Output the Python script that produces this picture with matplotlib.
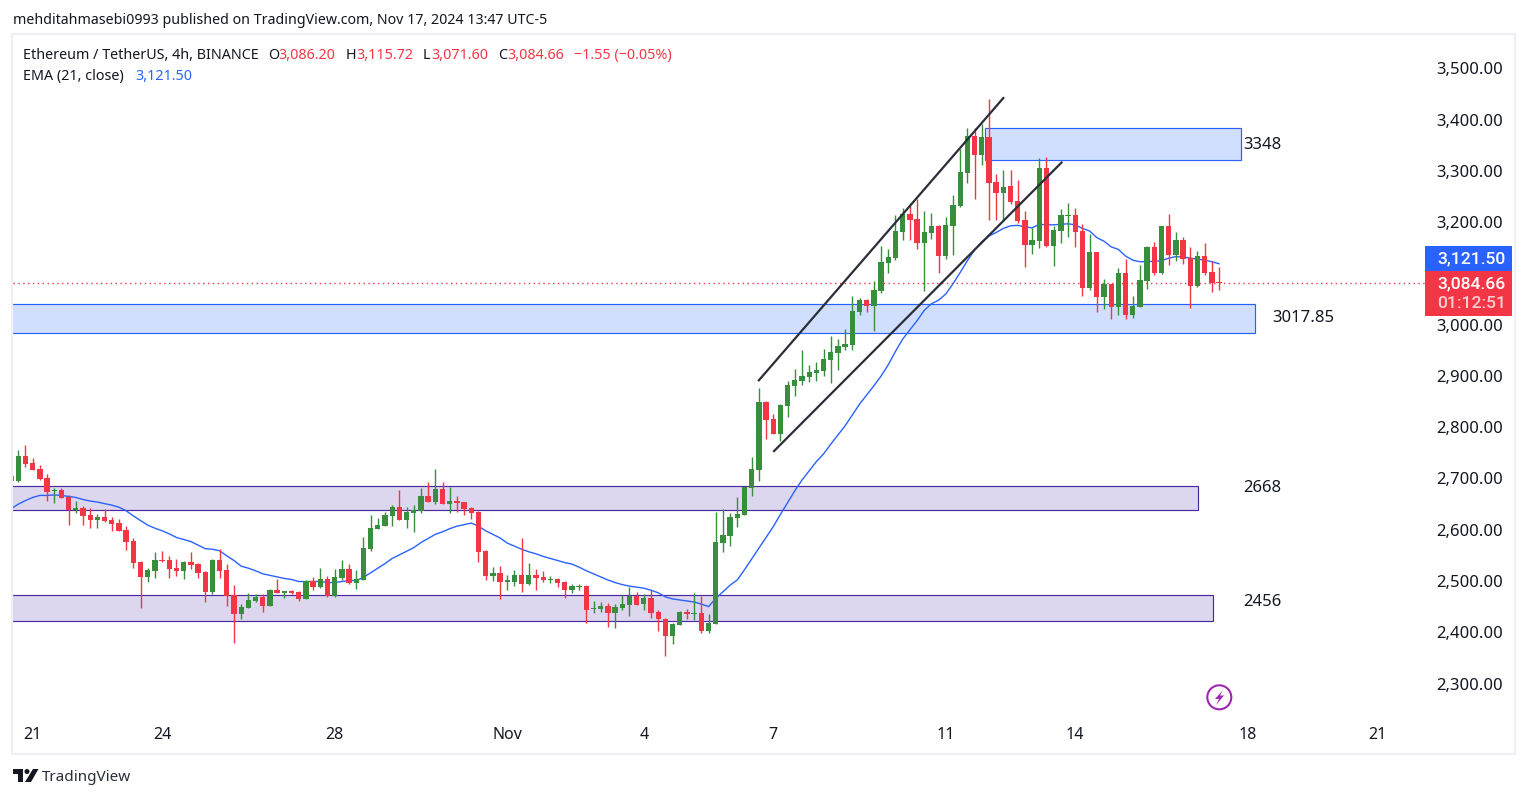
import numpy as np
import matplotlib
matplotlib.use("Agg")
import matplotlib.pyplot as plt
from matplotlib.patches import Rectangle, Polygon, Circle

W, H = 1529, 798
FONT = "Noto Sans"
INK = "#131722"
UP = "#388e3c"
DOWN = "#f23645"
EMA_BLUE = "#2962ff"

opens = [2704,2695,2744,2730,2719,2701,2676,2678,2664,2639,2642,2629,2619,2625,2619,2613,2600,2578,2537,2508,2520,
         2541,2541,2525,2520,2537,2533,2518,2479,2541,2522,2473,2436,2447,2461,2469,2451,2483,2477,2481,2479,
         2465,2500,2488,2504,2471,2506,2523,2496,2502,2563,2602,2607,2627,2644,2619,2633,2637,2666,2654,2680,
         2650,2656,2654,2643,2635,2559,2510,2516,2499,2498,2512,2494,2512,2508,2502,2504,2498,2482,2488,2490,
         2446,2445,2451,2438,2447,2453,2471,2455,2467,2440,2426,2393,2414,2440,2436,2438,2402,2416,2574,2588,
         2623,2629,2682,2717,2849,2816,2787,2842,2881,2890,2898,2906,2910,2931,2945,2957,2961,3025,3048,3037,
         3066,3121,3130,3181,3216,3206,3160,3179,3193,3134,3193,3232,3296,3368,3331,3366,3279,3257,3271,3242,
         3204,3156,3163,3306,3154,3183,3212,3214,3183,3072,3142,3054,3080,3035,3101,3019,3035,3085,3152,3101,
         3193,3136,3165,3130,3076,3134,3103,3082.5]
highs = [2704,2756,2765,2740,2726,2709,2682,2682,2668,2656,2646,2642,2631,2641,2625,2621,2607,2584,2539,2525,2557,
         2559,2549,2543,2539,2557,2535,2520,2543,2562,2533,2492,2455,2477,2475,2475,2484,2504,2481,2483,2481,
         2502,2508,2525,2510,2523,2541,2533,2522,2586,2629,2623,2635,2648,2678,2644,2648,2682,2693,2719,2693,
         2684,2666,2654,2644,2637,2561,2527,2529,2512,2522,2584,2535,2523,2520,2510,2506,2500,2494,2494,2492,
         2461,2459,2457,2455,2473,2488,2479,2475,2482,2443,2428,2418,2441,2445,2477,2471,2436,2635,2641,2633,
         2664,2684,2742,2877,2851,2826,2845,2890,2914,2951,2922,2927,2953,2978,2972,2992,3056,3052,3050,3085,
         3154,3148,3214,3228,3234,3245,3222,3218,3195,3210,3253,3343,3384,3384,3392,3441,3294,3302,3302,3283,
         3222,3189,3325,3327,3193,3226,3238,3228,3197,3177,3142,3089,3080,3111,3128,3056,3117,3154,3162,3193,
         3216,3181,3171,3152,3144,3160,3124,3112]
lows = [2696,2693,2723,2717,2697,2656,2652,2662,2609,2633,2609,2603,2603,2615,2598,2598,2561,2525,2447,2498,2506,
        2537,2506,2510,2504,2523,2506,2459,2475,2506,2451,2379,2426,2447,2459,2440,2451,2477,2467,2475,2461,
        2465,2483,2486,2469,2469,2502,2494,2484,2502,2559,2602,2607,2607,2619,2604,2596,2633,2654,2650,2650,
        2633,2635,2629,2621,2537,2502,2500,2465,2482,2490,2479,2492,2482,2498,2496,2488,2467,2477,2482,2418,
        2438,2440,2410,2408,2443,2432,2453,2443,2428,2402,2354,2377,2414,2426,2424,2399,2399,2416,2557,2568,
        2606,2629,2666,2695,2777,2787,2773,2820,2861,2883,2888,2890,2900,2886,2912,2951,2951,3019,3025,2988,
        3062,3101,3126,3165,3165,3148,3066,3167,3101,3128,3136,3230,3277,3245,3312,3204,3204,3204,3236,3199,
        3113,3138,3150,3152,3115,3160,3171,3152,3056,3068,3025,3031,3011,3019,3011,3013,3035,3070,3097,3099,
        3117,3124,3119,3033,3074,3097,3064,3068]
closes = [2696,2744,2728,2717,2699,2674,2678,2662,2639,2642,2627,2619,2625,2617,2611,2598,2576,2535,2508,2522,2541,
          2539,2523,2520,2537,2531,2516,2479,2541,2520,2471,2436,2449,2463,2469,2451,2483,2477,2481,2477,2465,
          2500,2488,2504,2471,2508,2523,2496,2504,2564,2604,2609,2629,2644,2619,2635,2639,2666,2654,2680,2650,
          2656,2652,2641,2633,2557,2510,2516,2498,2500,2512,2494,2512,2506,2502,2504,2496,2482,2490,2490,2443,
          2447,2451,2438,2449,2455,2471,2453,2467,2438,2426,2393,2416,2440,2436,2438,2402,2418,2576,2590,2625,
          2631,2684,2719,2849,2814,2787,2844,2883,2892,2900,2908,2912,2933,2947,2959,2962,3027,3048,3037,3068,
          3122,3132,3183,3216,3204,3160,3181,3193,3134,3195,3234,3298,3368,3331,3366,3277,3257,3269,3240,3202,
          3156,3165,3306,3154,3185,3214,3214,3181,3072,3142,3054,3080,3035,3101,3019,3037,3087,3152,3101,3193,
          3136,3165,3128,3076,3134,3101,3081,3081]
ema = [2641,2650,2657,2663,2667,2667,2668,2667,2665,2663,2659,2656,2654,2651,2648,2644,2637,2627,2618,2609,2603,
       2598,2592,2585,2581,2577,2570,2563,2562,2559,2549,2540,2529,2525,2520,2514,2511,2508,2505,2503,2499,
       2499,2499,2499,2497,2497,2499,2501,2501,2507,2516,2525,2534,2544,2551,2558,2565,2575,2583,2591,2596,
       2602,2607,2610,2613,2607,2598,2591,2584,2574,2568,2562,2557,2553,2548,2544,2540,2536,2533,2527,2520,
       2514,2508,2502,2497,2493,2490,2488,2486,2482,2477,2469,2465,2463,2461,2459,2455,2450,2466,2479,2492,
       2502,2522,2543,2564,2585,2606,2630,2653,2676,2697,2715,2733,2748,2767,2785,2803,2824,2845,2863,2881,
       2900,2922,2948,2972,2990,3008,3028,3041,3048,3060,3080,3102,3125,3146,3162,3173,3180,3188,3193,3194,
       3191,3189,3196,3195,3195,3196,3197,3195,3188,3183,3170,3163,3152,3147,3134,3126,3123,3123,3124,3125,
       3130,3133,3132,3130,3128,3126,3123,3119]

price_ticks = [3500, 3400, 3300, 3200, 3000, 2900, 2800, 2700, 2600, 2500, 2400, 2300]
date_labels = ["21", "24", "28", "Nov", "4", "7", "11", "14", "18", "21"]
date_index = [2, 20, 44, 68, 87, 105, 129, 147, 171, 189]

zone_tops = [3384, 3040, 2686, 2472]
zone_bottoms = [3322, 2983, 2638, 2421]
zone_starts = [134.4, -3, -3, -3]
zone_ends = [170.1, 172.0, 164.1, 166.1]
zone_fills = ["#d1dfff", "#d1dfff", "#dcd6ee", "#dcd6ee"]
zone_edges = ["#2962ff", "#2962ff", "#4a2a9e", "#4a2a9e"]
zone_names = ["3348", "3017.85", "2668", "2456"]
zone_name_index = [170.4, 174.4, 170.4, 170.4]
zone_name_price = [3350, 3014, 2682, 2460]

channel_upper = ([102.9, 137.1], [2890, 3444])
channel_lower = ([105.0, 145.2], [2752, 3318])

fig = plt.figure(figsize=(W / 100, H / 100), dpi=100, facecolor="white")
plt.rcParams["font.family"] = FONT

# price pane, placed in pixels
L, R, T, B = 13, 1425, 35, 720
ax = fig.add_axes([L / W, 1 - B / H, (R - L) / W, (B - T) / H])
ax.set_facecolor("none")
ax.set_xlim((L - 18.3) / 7.19, (R - 18.3) / 7.19)
ax.set_ylim(3500 - (B - 68.5) / 0.5125, 3500 - (T - 68.5) / 0.5125)
for s in ax.spines.values():
    s.set_visible(False)

idx = np.arange(len(closes)) - 1
o, h, l, c = map(np.array, (opens, highs, lows, closes))
colors = [UP if a > b else DOWN for a, b in zip(c, o)]

for i in range(len(zone_names)):
    ax.add_patch(Rectangle((zone_starts[i], zone_bottoms[i]), zone_ends[i] - zone_starts[i],
                           zone_tops[i] - zone_bottoms[i], facecolor=zone_fills[i],
                           edgecolor=zone_edges[i], lw=0.85, zorder=1))
    ax.text(zone_name_index[i], zone_name_price[i], zone_names[i], fontsize=12, color=INK,
            ha="left", va="center", zorder=6)

ax.axhline(c[-1], color=DOWN, lw=1.0, ls=(0, (1, 2.5)), zorder=1.5)
ax.plot(idx, ema, color=EMA_BLUE, lw=1.0, zorder=2)
ax.vlines(idx, l, h, colors=colors, lw=1.0, zorder=3)
ax.bar(idx, np.maximum(np.abs(c - o), 2.0), bottom=np.minimum(c, o), width=0.74, color=colors,
       linewidth=0, zorder=4)
for xs, ys in (channel_upper, channel_lower):
    ax.plot(xs, ys, color="#2a2e39", lw=1.6, zorder=5, solid_capstyle="butt")

ax.yaxis.tick_right()
ax.set_yticks(price_ticks)
ax.set_yticklabels([f"{v:,.2f}" for v in price_ticks], fontsize=12, color=INK)
ax.set_xticks(date_index)
ax.set_xticklabels(date_labels, fontsize=11.5, color=INK)
ax.get_xticklabels()[3].set_fontweight("bold")
ax.tick_params(axis="both", length=0)
ax.tick_params(axis="y", pad=8.2)
ax.tick_params(axis="x", pad=5)

# overlay in pixel units for the chrome around the pane
ov = fig.add_axes([0, 0, 1, 1], zorder=10)
ov.set_xlim(0, W)
ov.set_ylim(H, 0)
ov.axis("off")

BORDER = "#eff0f6"
ov.add_patch(Rectangle((12, 34), 1503, 720, fill=False, edgecolor=BORDER, lw=1.6))
ov.add_patch(Rectangle((1425, 246), 86.5, 25, facecolor=EMA_BLUE, edgecolor="none"))
ov.add_patch(Rectangle((1425, 271), 86.5, 45, facecolor=DOWN, edgecolor="none"))
BOX_FONT = {"family": "Roboto", "weight": "medium", "fontsize": 12.6}
ov.text(1437.5, 259, "3,121.50", color="white", va="center", **BOX_FONT)
ov.text(1437.5, 284, "3,084.66", color="white", va="center", **BOX_FONT)
ov.text(1437.5, 304, "01:12:51", color="white", alpha=0.75, va="center", **BOX_FONT)

ov.text(13, 20, "mehditahmasebi0993 published on TradingView.com, Nov 17, 2024 13:47 UTC-5",
        fontsize=10.22, color=INK, va="center")
legend_row = [(23, "Ethereum / TetherUS, 4h, BINANCE", INK), (268, "O", INK), (278, "3,086.20", DOWN),
              (346, "H", INK), (356, "3,115.72", DOWN), (423, "L", INK), (431, "3,071.60", DOWN),
              (498, "C", INK), (507.5, "3,084.66", DOWN), (573.5, "\u22121.55 (\u22120.05%)", DOWN)]
for x, s, col in legend_row:
    ov.text(x, 55.5, s, fontsize=10.3, color=col, va="center")
ov.text(23, 76.5, "EMA (21, close)", fontsize=10.3, color=INK, va="center")
ov.text(135, 76.5, "3,121.50", fontsize=10.3, color=EMA_BLUE, va="center")

# lightning badge
PURPLE = "#9c27b0"
ov.add_patch(Circle((1219.3, 697.3), 12, facecolor="white", edgecolor=PURPLE, lw=1.5))
ov.add_patch(Polygon([(1223, 690), (1215, 699), (1219, 699), (1216, 705), (1224, 695.5), (1220, 695.5)],
                     closed=True, facecolor=PURPLE, edgecolor="none"))

# TradingView wordmark
ov.add_patch(Polygon([(13, 769), (23, 769), (23, 782), (18, 782), (18, 774), (13, 774)],
                     closed=True, facecolor=INK, edgecolor="none"))
ov.add_patch(Circle((27, 771.5), 2.5, facecolor=INK, edgecolor="none"))
ov.add_patch(Polygon([(33, 769), (38.5, 769), (31, 782), (25, 782)], closed=True, facecolor=INK, edgecolor="none"))
ov.text(42, 777.5, "TradingView", fontsize=11, color="#2a2e39", va="center")

fig.savefig("out.png", dpi=100)
